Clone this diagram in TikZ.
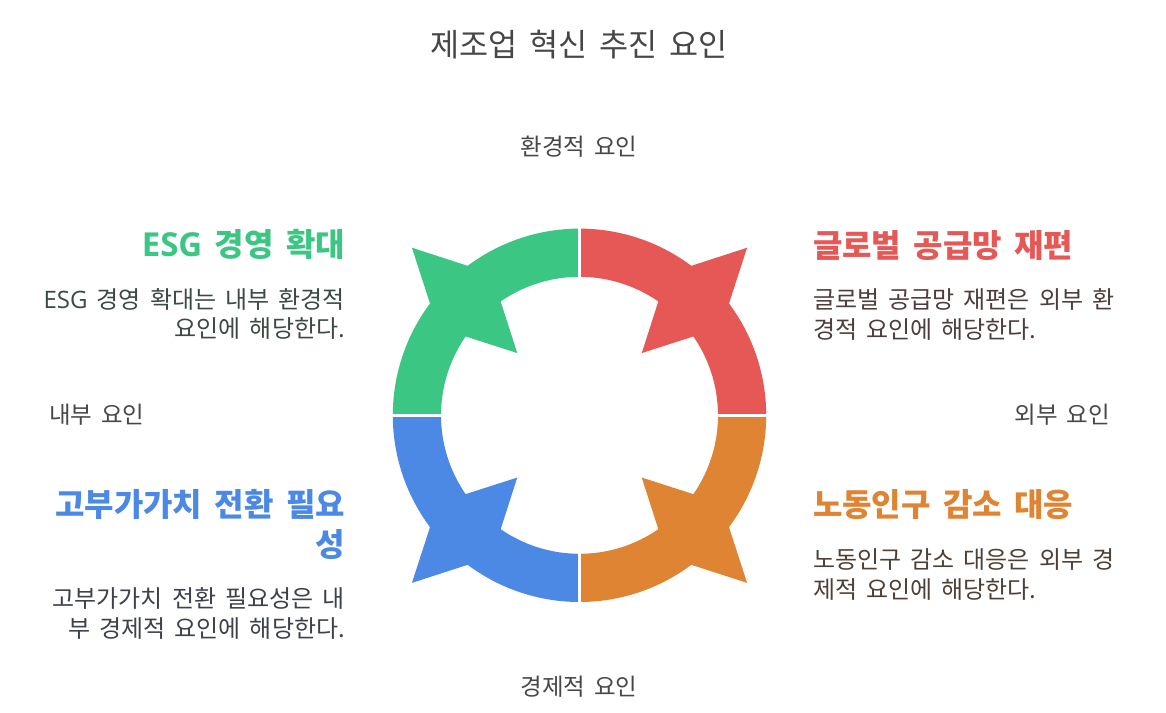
\documentclass[tikz,border=0pt]{standalone}
\usepackage{fontspec}
\setmainfont{Noto Sans CJK KR}[WordSpace=1.7]
\newfontfamily\latinfont{Open Sans}
\definecolor{grnc}{HTML}{3CC684}
\definecolor{redc}{HTML}{E55855}
\definecolor{orgc}{HTML}{DE8432}
\definecolor{bluc}{HTML}{4C89E5}
\definecolor{graytxt}{HTML}{474747}
\definecolor{grnbody}{HTML}{3B4A43}
\definecolor{redbody}{HTML}{4F3C3C}
\definecolor{orgbody}{HTML}{4D4036}
\definecolor{blubody}{HTML}{3C414C}
\tikzset{
  txt/.style={inner sep=0pt, outer sep=0pt},
  ttl/.style={txt, text=graytxt, font=\fontsize{31.6}{32}\selectfont},
  axislbl/.style={txt, text=graytxt, font=\fontsize{23.5}{24}\selectfont},
  headtxt/.style={txt, font=\fontsize{32}{32}\selectfont\bfseries},
  bodytxt/.style={txt, font=\fontsize{24}{24}\selectfont},
}
\begin{document}
\begin{tikzpicture}[x=1pt,y=-1pt]
\useasboundingbox[fill=white] (0,0) rectangle (1166,712);
% ring
\def\Ro{186.7}
\def\Ri{138.5}
\begin{scope}[shift={(579.5,415.3)}]
\foreach \o/\c in {0/orgc,90/bluc,180/grnc,270/redc}{
  \fill[\c] (\o:\Ro) arc[start angle=\o, end angle=\o+36.8, radius=\Ro]
    -- (\o+45:237) -- (\o+53.2:\Ro)
    arc[start angle=\o+53.2, end angle=\o+90, radius=\Ro]
    -- (\o+90:\Ri) arc[start angle=\o+90, end angle=\o+55.3, radius=\Ri]
    -- (\o+45:88) -- (\o+34.7:\Ri)
    arc[start angle=\o+34.7, end angle=\o, radius=\Ri] -- cycle;
}
\draw[white, line width=3.5pt] (-190,0) -- (190,0);
\draw[white, line width=3.5pt] (0,-190) -- (0,190);
\end{scope}
% title and axis labels
\node[ttl, anchor=base] (title) at (579,56.5) {제조업 혁신 추진 요인};
\node[axislbl, anchor=base] (env) at (579,155) {환경적 요인};
\node[axislbl, anchor=base] (eco) at (579,695) {경제적 요인};
\node[axislbl, anchor=base west] (inner) at (49,423) {내부 요인};
\node[axislbl, anchor=base east] (outer) at (1110,423) {외부 요인};
% green
\node[headtxt, text=grnc, anchor=base east] (gh) at (345,256.7) {{\latinfont\fontsize{33}{33}\selectfont\bfseries ESG} 경영 확대};
\node[bodytxt, text=grnbody, anchor=base east] (gb1) at (345,308) {{\latinfont\fontsize{24}{24}\selectfont ESG} 경영 확대는 내부 환경적};
\node[bodytxt, text=grnbody, anchor=base east] (gb2) at (345,337.5) {요인에 해당한다.};
% red
\node[headtxt, text=redc, anchor=base west] (rh) at (813,257) {글로벌 공급망 재편};
\node[bodytxt, text=redbody, anchor=base west] (rb1) at (813,308) {글로벌 공급망 재편은 외부 환};
\node[bodytxt, text=redbody, anchor=base west] (rb2) at (813,338) {경적 요인에 해당한다.};
% orange
\node[headtxt, text=orgc, anchor=base west] (oh) at (813,516) {노동인구 감소 대응};
\node[bodytxt, text=orgbody, anchor=base west] (ob1) at (813,568) {노동인구 감소 대응은 외부 경};
\node[bodytxt, text=orgbody, anchor=base west] (ob2) at (813,598) {제적 요인에 해당한다.};
% blue
\node[headtxt, text=bluc, anchor=base east] (bh1) at (345,516) {고부가가치 전환 필요};
\node[headtxt, text=bluc, anchor=base east] (bh2) at (345,556) {성};
\node[bodytxt, text=blubody, anchor=base east] (bb1) at (345,607) {고부가가치 전환 필요성은 내};
\node[bodytxt, text=blubody, anchor=base east] (bb2) at (345,637) {부 경제적 요인에 해당한다.};
\end{tikzpicture}
\end{document}
